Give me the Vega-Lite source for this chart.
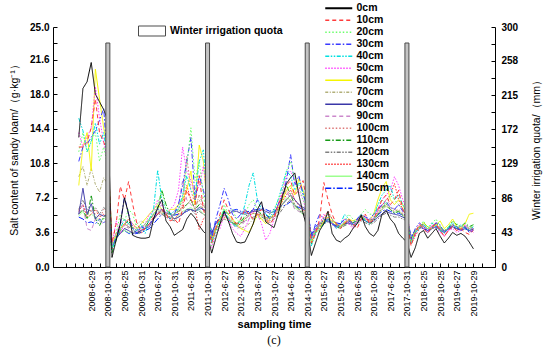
{
"$schema": "https://vega.github.io/schema/vega-lite/v6.json",
"width": 442, "height": 240,
"autosize": {"type": "none"},
"padding": {"left": 53, "top": 27, "right": 55, "bottom": 84},
"background": "white",
"config": {"view": {"stroke": null}, "font": "Liberation Sans", "axis": {"grid": false, "domainColor": "black", "tickColor": "black", "labelColor": "black", "titleColor": "black", "domainWidth": 1, "tickWidth": 1}},
"title": {"text": "(c)", "orient": "bottom", "font": "Liberation Serif", "fontSize": 12, "fontWeight": "normal", "anchor": "middle", "offset": 6},
"encoding": {
"x": {"field": "k", "type": "quantitative", "scale": {"domain": [0, 52], "nice": false, "zero": false},
 "axis": {"values": [1,2,3,4,5,6,7,8,9,10,11,12,13,14,15,16,17,18,19,20,21,22,23,24,25,26,27,28,29,30,31,32,33,34,35,36,37,38,39,40,41,42,43,44,45,46,47,48,49,50,51],
 "labelExpr": "datum.value==4?'2008-6-29':datum.value==6?'2008-10-31':datum.value==8?'2009-6-25':datum.value==10?'2009-10-31':datum.value==12?'2010-6-27':datum.value==14?'2010-10-31':datum.value==16?'2011-6-28':datum.value==18?'2011-10-31':datum.value==20?'2012-6-27':datum.value==22?'2012-10-30':datum.value==24?'2013-6-27':datum.value==26?'2013-10-27':datum.value==28?'2014-6-26':datum.value==30?'2014-10-28':datum.value==32?'2015-6-27':datum.value==34?'2015-10-29':datum.value==36?'2016-6-25':datum.value==38?'2016-10-28':datum.value==40?'2017-6-26':datum.value==42?'2017-10-31':datum.value==44?'2018-6-25':datum.value==46?'2018-10-25':datum.value==48?'2019-6-27':datum.value==50?'2019-10-29':''",
 "labelAngle": -90, "labelAlign": "right", "labelBaseline": "middle", "labelFontSize": 9, "labelPadding": 7, "labelFlush": false, "labelOverlap": false,
 "tickSize": -4,
 "title": "sampling time", "titleFontSize": 11, "titleFontWeight": "bold", "titlePadding": 2}}
},
"layer": [
{
"data": {"values": [
{"k":2.5,"0cm":13.5,"10cm":12.5,"20cm":12.0,"30cm":11.0,"40cm":15.5,"50cm":14.0,"60cm":8.5,"70cm":9.4,"80cm":5.5,"90cm":5.5,"100cm":6.0,"110cm":5.5,"120cm":6.0,"130cm":5.8,"140cm":5.3,"150cm":5.2},
{"k":3,"0cm":18.6,"10cm":12.5,"20cm":14.0,"30cm":12.5,"40cm":14.2,"50cm":12.5,"60cm":12.5,"70cm":10.5,"80cm":8.2,"90cm":6.5,"100cm":6.5,"110cm":6.0,"120cm":7.0,"130cm":6.5,"140cm":5.8,"150cm":5.0},
{"k":3.5,"0cm":19.3,"10cm":13.0,"20cm":12.0,"30cm":12.8,"40cm":12.0,"50cm":13.5,"60cm":14.0,"70cm":8.5,"80cm":5.5,"90cm":4.0,"100cm":5.5,"110cm":5.0,"120cm":6.0,"130cm":5.2,"140cm":5.0,"150cm":4.6},
{"k":4,"0cm":21.3,"10cm":14.5,"20cm":13.2,"30cm":13.5,"40cm":13.0,"50cm":14.5,"60cm":10.0,"70cm":10.3,"80cm":6.6,"90cm":3.8,"100cm":6.0,"110cm":7.5,"120cm":5.8,"130cm":5.5,"140cm":5.5,"150cm":4.7},
{"k":4.5,"0cm":18.0,"10cm":17.5,"20cm":14.0,"30cm":14.2,"40cm":15.0,"50cm":18.8,"60cm":20.6,"70cm":8.6,"80cm":5.0,"90cm":5.0,"100cm":5.5,"110cm":5.0,"120cm":6.2,"130cm":6.0,"140cm":5.2,"150cm":4.5},
{"k":5,"0cm":17.2,"10cm":14.0,"20cm":11.0,"30cm":15.3,"40cm":12.8,"50cm":15.5,"60cm":17.5,"70cm":7.8,"80cm":5.5,"90cm":4.8,"100cm":5.0,"110cm":4.3,"120cm":5.5,"130cm":5.2,"140cm":4.8,"150cm":5.0},
{"k":5.5,"0cm":16.4,"10cm":13.0,"20cm":12.5,"30cm":16.5,"40cm":14.0,"50cm":13.0,"60cm":14.5,"70cm":9.3,"80cm":5.3,"90cm":4.5,"100cm":6.0,"110cm":5.2,"120cm":6.2,"130cm":5.5,"140cm":5.0,"150cm":4.6},
{"k":6,"0cm":15.3,"10cm":12.0,"20cm":10.5,"30cm":10.5,"40cm":11.0,"50cm":10.8,"60cm":12.0,"70cm":8.6,"80cm":5.5,"90cm":5.0,"100cm":5.5,"110cm":5.5,"120cm":5.8,"130cm":5.0,"140cm":5.3,"150cm":5.2},
{"k":6.5,"0cm":1.0,"10cm":2.5,"20cm":2.0,"30cm":2.2,"40cm":1.8,"50cm":2.3,"60cm":2.5,"70cm":2.0,"80cm":2.0,"90cm":2.5,"100cm":2.2,"110cm":1.5,"120cm":2.0,"130cm":1.8,"140cm":2.0,"150cm":2.0},
{"k":7,"0cm":2.8,"10cm":4.5,"20cm":3.5,"30cm":3.0,"40cm":3.0,"50cm":4.8,"60cm":3.2,"70cm":3.5,"80cm":3.0,"90cm":3.5,"100cm":3.2,"110cm":2.8,"120cm":3.0,"130cm":3.5,"140cm":3.0,"150cm":3.2},
{"k":7.5,"0cm":4.5,"10cm":8.4,"20cm":5.5,"30cm":4.5,"40cm":4.0,"50cm":3.5,"60cm":4.0,"70cm":4.0,"80cm":3.5,"90cm":4.5,"100cm":4.0,"110cm":3.8,"120cm":3.5,"130cm":4.0,"140cm":3.5,"150cm":3.6},
{"k":8,"0cm":7.2,"10cm":7.0,"20cm":4.8,"30cm":7.3,"40cm":5.0,"50cm":4.5,"60cm":4.5,"70cm":4.5,"80cm":4.0,"90cm":5.0,"100cm":4.3,"110cm":4.5,"120cm":4.0,"130cm":4.5,"140cm":3.8,"150cm":3.8},
{"k":8.5,"0cm":5.5,"10cm":8.9,"20cm":6.0,"30cm":5.5,"40cm":4.5,"50cm":5.0,"60cm":5.0,"70cm":4.2,"80cm":3.8,"90cm":4.0,"100cm":4.5,"110cm":4.8,"120cm":4.2,"130cm":5.0,"140cm":3.6,"150cm":3.5},
{"k":9,"0cm":3.3,"10cm":6.5,"20cm":5.5,"30cm":4.0,"40cm":4.0,"50cm":4.5,"60cm":4.5,"70cm":4.0,"80cm":3.5,"90cm":3.5,"100cm":4.0,"110cm":4.0,"120cm":3.8,"130cm":4.2,"140cm":3.5,"150cm":3.4},
{"k":9.5,"0cm":3.1,"10cm":4.5,"20cm":4.0,"30cm":3.5,"40cm":3.8,"50cm":4.0,"60cm":4.0,"70cm":4.5,"80cm":3.6,"90cm":3.8,"100cm":3.8,"110cm":3.5,"120cm":3.6,"130cm":3.8,"140cm":3.8,"150cm":3.5},
{"k":10,"0cm":3.0,"10cm":3.8,"20cm":4.2,"30cm":4.2,"40cm":4.5,"50cm":3.8,"60cm":4.5,"70cm":4.8,"80cm":3.8,"90cm":4.0,"100cm":3.5,"110cm":3.8,"120cm":3.5,"130cm":3.6,"140cm":4.0,"150cm":3.6},
{"k":10.5,"0cm":3.0,"10cm":4.0,"20cm":4.5,"30cm":4.0,"40cm":3.5,"50cm":4.5,"60cm":5.0,"70cm":4.5,"80cm":4.0,"90cm":4.5,"100cm":4.0,"110cm":4.2,"120cm":4.0,"130cm":4.0,"140cm":4.5,"150cm":3.8},
{"k":11,"0cm":3.1,"10cm":4.5,"20cm":5.0,"30cm":4.5,"40cm":5.0,"50cm":5.5,"60cm":5.5,"70cm":5.0,"80cm":4.2,"90cm":4.8,"100cm":4.5,"110cm":4.8,"120cm":4.5,"130cm":4.5,"140cm":5.0,"150cm":4.0},
{"k":11.5,"0cm":5.0,"10cm":5.2,"20cm":5.5,"30cm":5.0,"40cm":6.0,"50cm":5.8,"60cm":6.0,"70cm":5.5,"80cm":5.0,"90cm":5.5,"100cm":5.0,"110cm":5.5,"120cm":5.0,"130cm":5.0,"140cm":5.5,"150cm":4.5},
{"k":12,"0cm":6.2,"10cm":5.5,"20cm":6.5,"30cm":6.0,"40cm":10.1,"50cm":7.0,"60cm":6.5,"70cm":6.0,"80cm":5.5,"90cm":6.0,"100cm":5.8,"110cm":6.0,"120cm":5.5,"130cm":5.5,"140cm":6.0,"150cm":5.0},
{"k":12.5,"0cm":7.0,"10cm":6.0,"20cm":8.0,"30cm":6.0,"40cm":7.0,"50cm":6.5,"60cm":6.0,"70cm":5.8,"80cm":6.0,"90cm":6.5,"100cm":5.5,"110cm":8.0,"120cm":5.5,"130cm":5.8,"140cm":5.6,"150cm":5.5},
{"k":13,"0cm":4.8,"10cm":5.5,"20cm":6.0,"30cm":5.5,"40cm":6.0,"50cm":5.5,"60cm":5.5,"70cm":5.5,"80cm":5.6,"90cm":5.5,"100cm":5.2,"110cm":6.5,"120cm":5.2,"130cm":5.5,"140cm":5.4,"150cm":5.6},
{"k":13.5,"0cm":4.2,"10cm":4.8,"20cm":5.0,"30cm":5.0,"40cm":5.5,"50cm":6.0,"60cm":6.0,"70cm":5.0,"80cm":5.5,"90cm":5.0,"100cm":5.0,"110cm":5.5,"120cm":5.0,"130cm":5.2,"140cm":5.2,"150cm":5.6},
{"k":14,"0cm":3.3,"10cm":5.0,"20cm":5.5,"30cm":5.5,"40cm":5.8,"50cm":6.5,"60cm":6.0,"70cm":5.5,"80cm":5.0,"90cm":5.8,"100cm":5.5,"110cm":5.5,"120cm":4.8,"130cm":5.0,"140cm":5.0,"150cm":5.4},
{"k":14.5,"0cm":3.6,"10cm":4.5,"20cm":6.0,"30cm":6.5,"40cm":6.0,"50cm":8.0,"60cm":6.5,"70cm":5.8,"80cm":5.2,"90cm":6.5,"100cm":6.0,"110cm":5.8,"120cm":5.2,"130cm":5.5,"140cm":5.4,"150cm":5.5},
{"k":15,"0cm":3.9,"10cm":6.0,"20cm":7.0,"30cm":8.5,"40cm":7.5,"50cm":12.5,"60cm":7.0,"70cm":6.0,"80cm":5.5,"90cm":9.0,"100cm":7.0,"110cm":6.2,"120cm":5.5,"130cm":6.5,"140cm":5.8,"150cm":5.6},
{"k":15.5,"0cm":5.0,"10cm":8.0,"20cm":10.5,"30cm":11.0,"40cm":9.5,"50cm":10.0,"60cm":8.0,"70cm":6.5,"80cm":6.0,"90cm":7.0,"100cm":11.5,"110cm":6.5,"120cm":5.8,"130cm":8.5,"140cm":6.0,"150cm":5.8},
{"k":16,"0cm":5.6,"10cm":7.0,"20cm":14.5,"30cm":13.5,"40cm":8.0,"50cm":9.0,"60cm":10.0,"70cm":7.0,"80cm":6.0,"90cm":6.5,"100cm":8.0,"110cm":7.0,"120cm":6.0,"130cm":7.0,"140cm":6.2,"150cm":6.0},
{"k":16.5,"0cm":5.1,"10cm":6.5,"20cm":9.0,"30cm":7.0,"40cm":7.5,"50cm":7.5,"60cm":6.5,"70cm":6.0,"80cm":5.8,"90cm":6.0,"100cm":6.5,"110cm":6.0,"120cm":5.5,"130cm":6.0,"140cm":5.8,"150cm":5.8},
{"k":17,"0cm":4.3,"10cm":9.5,"20cm":11.0,"30cm":9.5,"40cm":11.0,"50cm":8.5,"60cm":12.7,"70cm":7.5,"80cm":6.2,"90cm":7.5,"100cm":7.0,"110cm":6.5,"120cm":5.8,"130cm":3.9,"140cm":6.0,"150cm":6.0},
{"k":17.5,"0cm":3.7,"10cm":6.0,"20cm":7.5,"30cm":8.0,"40cm":12.2,"50cm":10.5,"60cm":11.0,"70cm":6.5,"80cm":6.0,"90cm":6.5,"100cm":6.0,"110cm":6.0,"120cm":5.5,"130cm":5.0,"140cm":5.5,"150cm":6.0},
{"k":18,"0cm":3.3,"10cm":4.5,"20cm":5.0,"30cm":6.0,"40cm":6.5,"50cm":7.0,"60cm":6.0,"70cm":5.5,"80cm":5.8,"90cm":6.0,"100cm":5.5,"110cm":5.5,"120cm":5.2,"130cm":5.5,"140cm":5.3,"150cm":5.8},
{"k":18.5,"0cm":1.45,"10cm":2.5,"20cm":2.2,"30cm":3.0,"40cm":2.5,"50cm":2.0,"60cm":2.8,"70cm":3.0,"80cm":3.5,"90cm":2.5,"100cm":3.0,"110cm":2.8,"120cm":3.2,"130cm":2.6,"140cm":3.0,"150cm":3.5},
{"k":19,"0cm":3.0,"10cm":4.0,"20cm":3.5,"30cm":5.0,"40cm":3.8,"50cm":3.5,"60cm":4.0,"70cm":4.0,"80cm":4.5,"90cm":4.0,"100cm":4.2,"110cm":4.0,"120cm":4.2,"130cm":3.8,"140cm":4.0,"150cm":4.6},
{"k":19.5,"0cm":4.5,"10cm":5.5,"20cm":4.5,"30cm":6.5,"40cm":5.0,"50cm":4.0,"60cm":5.0,"70cm":4.5,"80cm":5.0,"90cm":4.8,"100cm":5.0,"110cm":4.8,"120cm":4.6,"130cm":4.5,"140cm":4.8,"150cm":5.2},
{"k":20,"0cm":5.8,"10cm":7.0,"20cm":6.5,"30cm":8.2,"40cm":6.0,"50cm":5.5,"60cm":6.0,"70cm":5.0,"80cm":5.8,"90cm":5.5,"100cm":5.5,"110cm":5.5,"120cm":5.0,"130cm":5.2,"140cm":5.4,"150cm":5.6},
{"k":20.5,"0cm":4.8,"10cm":6.0,"20cm":5.5,"30cm":7.0,"40cm":5.0,"50cm":5.0,"60cm":5.5,"70cm":4.8,"80cm":5.5,"90cm":5.0,"100cm":5.2,"110cm":5.0,"120cm":4.8,"130cm":5.0,"140cm":5.2,"150cm":5.8},
{"k":21,"0cm":3.5,"10cm":5.0,"20cm":6.0,"30cm":5.5,"40cm":4.5,"50cm":4.0,"60cm":5.0,"70cm":4.6,"80cm":5.8,"90cm":4.5,"100cm":4.8,"110cm":4.6,"120cm":4.6,"130cm":4.6,"140cm":4.8,"150cm":5.9},
{"k":21.5,"0cm":2.6,"10cm":4.5,"20cm":5.0,"30cm":5.0,"40cm":4.2,"50cm":3.5,"60cm":4.5,"70cm":4.3,"80cm":5.8,"90cm":4.0,"100cm":4.5,"110cm":4.4,"120cm":4.5,"130cm":4.3,"140cm":4.6,"150cm":6.0},
{"k":22,"0cm":2.5,"10cm":5.0,"20cm":4.5,"30cm":5.5,"40cm":5.0,"50cm":3.2,"60cm":4.0,"70cm":4.0,"80cm":5.6,"90cm":4.2,"100cm":4.6,"110cm":4.8,"120cm":4.6,"130cm":4.5,"140cm":4.8,"150cm":5.8},
{"k":22.5,"0cm":2.6,"10cm":6.0,"20cm":5.5,"30cm":6.0,"40cm":6.5,"50cm":4.0,"60cm":3.8,"70cm":4.2,"80cm":5.5,"90cm":4.8,"100cm":5.0,"110cm":5.2,"120cm":4.8,"130cm":5.0,"140cm":5.0,"150cm":5.7},
{"k":23,"0cm":3.5,"10cm":5.5,"20cm":6.5,"30cm":5.5,"40cm":8.5,"50cm":5.0,"60cm":3.6,"70cm":4.5,"80cm":5.6,"90cm":5.5,"100cm":5.5,"110cm":5.6,"120cm":5.0,"130cm":5.4,"140cm":5.3,"150cm":5.8},
{"k":23.5,"0cm":4.5,"10cm":5.0,"20cm":7.0,"30cm":6.0,"40cm":9.8,"50cm":6.0,"60cm":4.5,"70cm":5.0,"80cm":5.8,"90cm":6.0,"100cm":5.8,"110cm":6.0,"120cm":5.2,"130cm":5.6,"140cm":5.6,"150cm":5.9},
{"k":24,"0cm":6.0,"10cm":5.5,"20cm":6.0,"30cm":7.0,"40cm":7.0,"50cm":5.5,"60cm":5.5,"70cm":5.2,"80cm":5.8,"90cm":5.8,"100cm":5.6,"110cm":5.8,"120cm":5.4,"130cm":5.5,"140cm":5.5,"150cm":6.0},
{"k":24.5,"0cm":6.8,"10cm":6.0,"20cm":5.5,"30cm":6.5,"40cm":6.0,"50cm":4.5,"60cm":5.0,"70cm":5.0,"80cm":6.0,"90cm":5.5,"100cm":5.4,"110cm":5.5,"120cm":5.2,"130cm":5.4,"140cm":5.3,"150cm":6.1},
{"k":25,"0cm":4.7,"10cm":5.0,"20cm":5.0,"30cm":5.5,"40cm":5.5,"50cm":2.8,"60cm":4.5,"70cm":4.8,"80cm":5.8,"90cm":5.0,"100cm":5.2,"110cm":5.4,"120cm":5.0,"130cm":5.2,"140cm":5.1,"150cm":6.0},
{"k":25.5,"0cm":4.4,"10cm":4.5,"20cm":5.5,"30cm":5.0,"40cm":5.2,"50cm":3.5,"60cm":5.0,"70cm":4.6,"80cm":5.6,"90cm":4.8,"100cm":5.0,"110cm":5.2,"120cm":4.8,"130cm":5.0,"140cm":5.0,"150cm":5.8},
{"k":26,"0cm":4.1,"10cm":5.0,"20cm":6.0,"30cm":5.5,"40cm":5.8,"50cm":5.0,"60cm":5.5,"70cm":5.0,"80cm":5.8,"90cm":5.2,"100cm":5.2,"110cm":5.5,"120cm":5.0,"130cm":5.4,"140cm":5.3,"150cm":6.0},
{"k":26.5,"0cm":5.5,"10cm":6.5,"20cm":7.0,"30cm":6.5,"40cm":7.0,"50cm":6.5,"60cm":6.0,"70cm":5.5,"80cm":6.0,"90cm":6.0,"100cm":5.8,"110cm":6.5,"120cm":5.4,"130cm":6.0,"140cm":5.8,"150cm":6.2},
{"k":27,"0cm":7.3,"10cm":7.5,"20cm":8.0,"30cm":7.5,"40cm":8.5,"50cm":8.0,"60cm":7.0,"70cm":6.5,"80cm":6.5,"90cm":7.5,"100cm":7.0,"110cm":7.2,"120cm":6.0,"130cm":6.8,"140cm":6.5,"150cm":6.3},
{"k":27.5,"0cm":8.7,"10cm":8.5,"20cm":10.0,"30cm":9.0,"40cm":10.0,"50cm":9.5,"60cm":8.0,"70cm":7.0,"80cm":7.0,"90cm":8.0,"100cm":7.8,"110cm":8.5,"120cm":6.6,"130cm":7.5,"140cm":7.2,"150cm":6.5},
{"k":28,"0cm":9.3,"10cm":9.0,"20cm":11.0,"30cm":11.7,"40cm":9.5,"50cm":10.0,"60cm":8.5,"70cm":7.5,"80cm":7.5,"90cm":7.0,"100cm":8.2,"110cm":7.5,"120cm":7.0,"130cm":8.0,"140cm":7.0,"150cm":6.8},
{"k":28.5,"0cm":9.8,"10cm":7.5,"20cm":9.0,"30cm":8.5,"40cm":8.0,"50cm":9.0,"60cm":7.5,"70cm":6.5,"80cm":7.0,"90cm":6.0,"100cm":7.0,"110cm":6.5,"120cm":6.4,"130cm":7.0,"140cm":6.2,"150cm":6.4},
{"k":29,"0cm":7.5,"10cm":8.0,"20cm":8.5,"30cm":9.5,"40cm":8.8,"50cm":8.0,"60cm":9.2,"70cm":6.0,"80cm":6.5,"90cm":5.8,"100cm":6.5,"110cm":6.0,"120cm":6.0,"130cm":6.4,"140cm":5.8,"150cm":6.2},
{"k":29.5,"0cm":5.6,"10cm":9.0,"20cm":7.0,"30cm":7.5,"40cm":7.8,"50cm":7.0,"60cm":8.0,"70cm":5.8,"80cm":6.2,"90cm":5.5,"100cm":6.0,"110cm":5.5,"120cm":5.6,"130cm":6.0,"140cm":5.5,"150cm":6.0},
{"k":30,"0cm":4.0,"10cm":6.5,"20cm":6.0,"30cm":6.5,"40cm":6.0,"50cm":5.5,"60cm":6.0,"70cm":5.5,"80cm":6.0,"90cm":5.2,"100cm":5.6,"110cm":5.2,"120cm":5.4,"130cm":5.5,"140cm":5.3,"150cm":6.0},
{"k":30.5,"0cm":1.2,"10cm":2.5,"20cm":2.8,"30cm":3.0,"40cm":2.2,"50cm":2.8,"60cm":2.5,"70cm":2.8,"80cm":3.2,"90cm":2.6,"100cm":3.0,"110cm":2.4,"120cm":3.0,"130cm":2.6,"140cm":3.0,"150cm":3.4},
{"k":31,"0cm":2.5,"10cm":3.5,"20cm":4.0,"30cm":4.5,"40cm":3.5,"50cm":4.0,"60cm":3.5,"70cm":3.8,"80cm":4.0,"90cm":3.6,"100cm":3.8,"110cm":3.6,"120cm":3.8,"130cm":3.6,"140cm":3.8,"150cm":4.2},
{"k":31.5,"0cm":3.8,"10cm":5.0,"20cm":4.5,"30cm":5.5,"40cm":4.0,"50cm":4.5,"60cm":4.0,"70cm":4.5,"80cm":4.5,"90cm":4.2,"100cm":4.4,"110cm":4.2,"120cm":4.2,"130cm":4.4,"140cm":4.3,"150cm":4.6},
{"k":32,"0cm":4.5,"10cm":8.8,"20cm":5.0,"30cm":5.0,"40cm":4.5,"50cm":5.5,"60cm":4.8,"70cm":4.8,"80cm":4.6,"90cm":4.8,"100cm":5.0,"110cm":4.6,"120cm":4.5,"130cm":5.2,"140cm":4.6,"150cm":4.8},
{"k":32.5,"0cm":5.8,"10cm":7.0,"20cm":5.5,"30cm":4.8,"40cm":5.0,"50cm":5.0,"60cm":5.2,"70cm":5.0,"80cm":4.8,"90cm":5.2,"100cm":5.5,"110cm":5.0,"120cm":4.7,"130cm":5.8,"140cm":4.9,"150cm":5.0},
{"k":33,"0cm":3.5,"10cm":5.5,"20cm":5.0,"30cm":4.5,"40cm":4.5,"50cm":4.5,"60cm":4.8,"70cm":4.6,"80cm":4.5,"90cm":4.6,"100cm":5.0,"110cm":4.6,"120cm":4.4,"130cm":5.0,"140cm":4.6,"150cm":4.8},
{"k":33.5,"0cm":2.8,"10cm":4.5,"20cm":4.5,"30cm":4.2,"40cm":4.0,"50cm":4.0,"60cm":4.5,"70cm":4.4,"80cm":4.3,"90cm":4.0,"100cm":4.5,"110cm":4.2,"120cm":4.2,"130cm":4.4,"140cm":4.3,"150cm":4.6},
{"k":34,"0cm":2.6,"10cm":4.0,"20cm":4.2,"30cm":4.5,"40cm":4.5,"50cm":4.5,"60cm":4.2,"70cm":4.3,"80cm":4.2,"90cm":4.4,"100cm":4.3,"110cm":4.0,"120cm":4.1,"130cm":4.2,"140cm":4.2,"150cm":4.5},
{"k":34.5,"0cm":3.0,"10cm":4.5,"20cm":4.8,"30cm":5.0,"40cm":5.5,"50cm":5.0,"60cm":4.6,"70cm":4.6,"80cm":4.5,"90cm":5.0,"100cm":4.6,"110cm":4.4,"120cm":4.3,"130cm":4.6,"140cm":4.5,"150cm":4.6},
{"k":35,"0cm":3.3,"10cm":5.0,"20cm":5.5,"30cm":4.8,"40cm":5.0,"50cm":4.5,"60cm":5.0,"70cm":4.8,"80cm":4.6,"90cm":4.6,"100cm":4.8,"110cm":4.8,"120cm":4.5,"130cm":5.0,"140cm":4.8,"150cm":4.8},
{"k":35.5,"0cm":4.0,"10cm":4.5,"20cm":5.0,"30cm":4.5,"40cm":4.5,"50cm":4.0,"60cm":4.8,"70cm":4.6,"80cm":4.4,"90cm":4.2,"100cm":4.5,"110cm":4.6,"120cm":4.3,"130cm":4.6,"140cm":4.6,"150cm":4.7},
{"k":36,"0cm":4.5,"10cm":4.0,"20cm":4.5,"30cm":5.0,"40cm":5.0,"50cm":4.8,"60cm":5.0,"70cm":4.8,"80cm":4.6,"90cm":4.5,"100cm":4.8,"110cm":4.8,"120cm":4.5,"130cm":4.8,"140cm":4.8,"150cm":4.9},
{"k":36.5,"0cm":5.4,"10cm":5.0,"20cm":5.5,"30cm":5.5,"40cm":5.5,"50cm":5.5,"60cm":5.4,"70cm":5.2,"80cm":5.0,"90cm":5.2,"100cm":5.3,"110cm":5.2,"120cm":4.8,"130cm":5.4,"140cm":5.2,"150cm":5.2},
{"k":37,"0cm":4.2,"10cm":5.5,"20cm":6.0,"30cm":5.2,"40cm":4.8,"50cm":5.0,"60cm":5.0,"70cm":5.0,"80cm":4.8,"90cm":5.0,"100cm":5.0,"110cm":4.8,"120cm":4.6,"130cm":5.2,"140cm":5.0,"150cm":5.0},
{"k":37.5,"0cm":3.5,"10cm":4.5,"20cm":5.5,"30cm":5.0,"40cm":4.5,"50cm":4.8,"60cm":4.8,"70cm":4.8,"80cm":4.6,"90cm":4.6,"100cm":4.7,"110cm":4.5,"120cm":4.4,"130cm":4.8,"140cm":4.7,"150cm":4.9},
{"k":38,"0cm":3.2,"10cm":5.0,"20cm":5.5,"30cm":5.5,"40cm":5.0,"50cm":5.2,"60cm":5.5,"70cm":5.0,"80cm":4.8,"90cm":5.0,"100cm":5.0,"110cm":4.8,"120cm":4.6,"130cm":5.0,"140cm":5.0,"150cm":5.0},
{"k":38.5,"0cm":3.8,"10cm":6.0,"20cm":6.5,"30cm":6.0,"40cm":6.5,"50cm":6.0,"60cm":7.0,"70cm":5.5,"80cm":5.2,"90cm":5.8,"100cm":5.6,"110cm":5.5,"120cm":5.0,"130cm":5.8,"140cm":5.5,"150cm":5.4},
{"k":39,"0cm":5.5,"10cm":7.0,"20cm":7.0,"30cm":6.5,"40cm":7.5,"50cm":7.0,"60cm":8.2,"70cm":6.0,"80cm":5.5,"90cm":6.5,"100cm":6.0,"110cm":6.2,"120cm":5.4,"130cm":6.4,"140cm":6.0,"150cm":5.8},
{"k":39.5,"0cm":5.9,"10cm":7.5,"20cm":6.5,"30cm":6.8,"40cm":8.0,"50cm":7.5,"60cm":8.9,"70cm":6.5,"80cm":5.8,"90cm":7.0,"100cm":6.4,"110cm":6.6,"120cm":5.6,"130cm":7.0,"140cm":6.3,"150cm":6.0},
{"k":40,"0cm":5.0,"10cm":6.5,"20cm":7.5,"30cm":6.2,"40cm":8.5,"50cm":8.0,"60cm":7.0,"70cm":6.2,"80cm":5.6,"90cm":6.5,"100cm":6.0,"110cm":6.0,"120cm":5.4,"130cm":7.5,"140cm":6.0,"150cm":5.8},
{"k":40.5,"0cm":4.5,"10cm":7.0,"20cm":7.0,"30cm":6.0,"40cm":7.0,"50cm":9.4,"60cm":6.5,"70cm":6.0,"80cm":5.5,"90cm":6.0,"100cm":5.8,"110cm":5.6,"120cm":5.2,"130cm":8.7,"140cm":5.7,"150cm":5.6},
{"k":41,"0cm":3.5,"10cm":8.0,"20cm":6.5,"30cm":6.5,"40cm":7.5,"50cm":8.5,"60cm":7.0,"70cm":5.8,"80cm":5.4,"90cm":6.5,"100cm":6.0,"110cm":5.8,"120cm":5.2,"130cm":7.0,"140cm":5.8,"150cm":5.6},
{"k":41.5,"0cm":3.0,"10cm":6.0,"20cm":6.0,"30cm":5.8,"40cm":6.5,"50cm":7.0,"60cm":6.5,"70cm":5.5,"80cm":5.2,"90cm":6.0,"100cm":5.6,"110cm":5.4,"120cm":5.0,"130cm":6.0,"140cm":5.4,"150cm":5.4},
{"k":42,"0cm":2.6,"10cm":5.0,"20cm":5.5,"30cm":5.0,"40cm":5.5,"50cm":6.0,"60cm":5.5,"70cm":5.0,"80cm":5.0,"90cm":5.2,"100cm":5.0,"110cm":4.8,"120cm":4.8,"130cm":5.2,"140cm":5.0,"150cm":5.2},
{"k":42.5,"0cm":1.0,"10cm":2.2,"20cm":2.5,"30cm":2.8,"40cm":2.4,"50cm":2.6,"60cm":2.6,"70cm":2.8,"80cm":3.0,"90cm":2.6,"100cm":2.8,"110cm":2.5,"120cm":3.0,"130cm":2.4,"140cm":2.8,"150cm":3.2},
{"k":43,"0cm":2.0,"10cm":3.5,"20cm":3.8,"30cm":4.0,"40cm":3.6,"50cm":3.4,"60cm":3.8,"70cm":3.6,"80cm":3.8,"90cm":3.4,"100cm":3.6,"110cm":3.6,"120cm":3.6,"130cm":3.2,"140cm":3.6,"150cm":3.8},
{"k":43.5,"0cm":3.5,"10cm":4.5,"20cm":4.2,"30cm":4.6,"40cm":4.0,"50cm":4.4,"60cm":4.2,"70cm":4.0,"80cm":4.2,"90cm":4.0,"100cm":4.2,"110cm":4.0,"120cm":4.0,"130cm":4.0,"140cm":4.2,"150cm":4.2},
{"k":44,"0cm":3.8,"10cm":4.0,"20cm":4.8,"30cm":4.2,"40cm":4.4,"50cm":4.0,"60cm":4.6,"70cm":4.2,"80cm":4.0,"90cm":4.4,"100cm":4.2,"110cm":4.6,"120cm":4.2,"130cm":4.4,"140cm":4.4,"150cm":4.0},
{"k":44.5,"0cm":3.0,"10cm":3.5,"20cm":4.0,"30cm":3.8,"40cm":4.0,"50cm":3.6,"60cm":4.2,"70cm":3.8,"80cm":3.6,"90cm":4.0,"100cm":3.8,"110cm":4.2,"120cm":3.8,"130cm":3.8,"140cm":4.0,"150cm":3.8},
{"k":45,"0cm":3.5,"10cm":4.2,"20cm":4.5,"30cm":4.0,"40cm":4.6,"50cm":4.4,"60cm":4.0,"70cm":4.2,"80cm":4.0,"90cm":4.2,"100cm":4.2,"110cm":4.0,"120cm":4.0,"130cm":4.2,"140cm":4.2,"150cm":4.0},
{"k":45.5,"0cm":4.0,"10cm":4.5,"20cm":5.0,"30cm":4.6,"40cm":4.2,"50cm":4.0,"60cm":4.4,"70cm":4.4,"80cm":4.2,"90cm":4.6,"100cm":4.4,"110cm":4.6,"120cm":4.2,"130cm":4.6,"140cm":4.4,"150cm":4.2},
{"k":46,"0cm":3.2,"10cm":3.8,"20cm":4.2,"30cm":4.4,"40cm":3.8,"50cm":3.6,"60cm":4.8,"70cm":4.0,"80cm":3.8,"90cm":4.0,"100cm":4.0,"110cm":4.2,"120cm":3.9,"130cm":3.8,"140cm":4.0,"150cm":4.0},
{"k":46.5,"0cm":2.5,"10cm":3.2,"20cm":3.8,"30cm":3.6,"40cm":3.5,"50cm":3.2,"60cm":4.0,"70cm":3.8,"80cm":3.6,"90cm":3.6,"100cm":3.8,"110cm":3.8,"120cm":3.7,"130cm":3.2,"140cm":3.8,"150cm":3.8},
{"k":47,"0cm":3.0,"10cm":3.8,"20cm":4.2,"30cm":4.0,"40cm":4.2,"50cm":3.8,"60cm":4.4,"70cm":4.0,"80cm":4.0,"90cm":3.8,"100cm":4.0,"110cm":4.0,"120cm":4.0,"130cm":3.8,"140cm":4.0,"150cm":3.9},
{"k":47.5,"0cm":3.6,"10cm":4.2,"20cm":4.8,"30cm":4.4,"40cm":4.6,"50cm":4.0,"60cm":5.0,"70cm":4.4,"80cm":4.2,"90cm":4.4,"100cm":4.2,"110cm":4.8,"120cm":4.2,"130cm":4.4,"140cm":4.4,"150cm":4.1},
{"k":48,"0cm":3.3,"10cm":3.8,"20cm":4.5,"30cm":4.2,"40cm":4.0,"50cm":3.6,"60cm":4.2,"70cm":4.2,"80cm":4.0,"90cm":4.0,"100cm":4.0,"110cm":4.4,"120cm":4.0,"130cm":3.8,"140cm":4.2,"150cm":4.0},
{"k":48.5,"0cm":3.5,"10cm":4.0,"20cm":4.2,"30cm":3.8,"40cm":4.4,"50cm":3.8,"60cm":4.0,"70cm":4.0,"80cm":3.8,"90cm":4.2,"100cm":4.0,"110cm":4.2,"120cm":3.9,"130cm":4.0,"140cm":4.0,"150cm":3.9},
{"k":49,"0cm":3.2,"10cm":3.6,"20cm":4.6,"30cm":4.2,"40cm":4.0,"50cm":4.4,"60cm":4.5,"70cm":4.2,"80cm":4.0,"90cm":4.4,"100cm":4.2,"110cm":4.6,"120cm":4.1,"130cm":4.2,"140cm":4.2,"150cm":4.0},
{"k":49.5,"0cm":2.6,"10cm":3.4,"20cm":4.0,"30cm":3.6,"40cm":3.8,"50cm":4.0,"60cm":5.5,"70cm":4.0,"80cm":3.8,"90cm":4.0,"100cm":4.0,"110cm":4.2,"120cm":3.9,"130cm":3.6,"140cm":4.0,"150cm":3.8},
{"k":50,"0cm":1.9,"10cm":3.8,"20cm":4.4,"30cm":3.8,"40cm":4.2,"50cm":3.6,"60cm":5.6,"70cm":4.2,"80cm":3.9,"90cm":4.0,"100cm":3.8,"110cm":4.4,"120cm":4.0,"130cm":4.0,"140cm":4.4,"150cm":4.0}
]},
"transform": [{"fold": ["150cm","140cm","130cm","120cm","110cm","100cm","90cm","80cm","70cm","60cm","50cm","40cm","30cm","20cm","10cm","0cm"], "as": ["depth", "salt"]}],
"mark": {"type": "line", "strokeWidth": 1},
"encoding": {
"y": {"field": "salt", "type": "quantitative", "scale": {"domain": [0, 25], "nice": false},
 "axis": {"orient": "left", "values": [0,1.8,3.6,5.4,7.2,9,10.8,12.6,14.4,16.2,18,19.8,21.6,23.3,25],
 "labelExpr": "indexof([0,3.6,7.2,10.8,14.4,18,21.6,25], datum.value) >= 0 ? format(datum.value, '.1f') : ''",
 "labelFontSize": 10, "labelFontWeight": "bold", "labelPadding": 8,
 "tickSize": -4,
 "title": "Salt content of sandy loam/（g·kg⁻¹）", "titleFontSize": 10.5, "titleFontWeight": "normal", "titlePadding": 10}},
"color": {"field": "depth", "type": "nominal",
 "scale": {"domain": ["0cm","10cm","20cm","30cm","40cm","50cm","60cm","70cm","80cm","90cm","100cm","110cm","120cm","130cm","140cm","150cm"],
  "range": ["#000000","#ff3b3b","#6bff6b","#3a3aff","#00e0e0","#ff44ff","#f5f500","#b2b07a","#3a36a8","#cc88cc","#dd7777","#159915","#808080","#ff3333","#9dff8f","#0022ff"]},
 "legend": {"orient": "none", "legendX": 280.5, "legendY": -24, "title": null, "symbolType": "M-2.7,0H2.7", "symbolSize": 100, "labelFontSize": 10.5, "labelFontWeight": "bold", "labelFont": "Liberation Sans", "labelOffset": 12.5, "rowPadding": 1, "padding": 0, "symbolStrokeWidth": 1.2,
  "encode": {"symbols": {"update": {"strokeWidth": {"signal": "datum.value === '0cm' ? 2 : 1.3"}}}}}},
"strokeDash": {"field": "depth", "type": "nominal",
 "scale": {"domain": ["0cm","10cm","20cm","30cm","40cm","50cm","60cm","70cm","80cm","90cm","100cm","110cm","120cm","130cm","140cm","150cm"],
  "range": [[1,0],[4,3],[1.5,2],[5,2,1.5,2],[4,1.5,1.5,1.5,1.5,1.5],[1.5,1.5],[1,0],[3,1.5,1,1.5],[1,0],[4,3],[1.5,2],[5,2,1.5,2],[4,1.5,1.5,1.5,1.5,1.5],[1.5,1.5],[1,0],[6,2,1.5,2]]}},
"strokeWidth": {"condition": {"test": "datum.depth === '0cm'", "value": 2}, "value": 1}
}
},
{
"data": {"values": [{"k": 6, "q": 280}, {"k": 18, "q": 280}, {"k": 30, "q": 280}, {"k": 42, "q": 280}]},
"mark": {"type": "bar", "width": 4, "orient": "vertical", "fill": "#c4c4c4", "stroke": "#4a4a4a", "strokeWidth": 1},
"encoding": {
"y": {"field": "q", "type": "quantitative", "scale": {"domain": [0, 300], "nice": false},
 "axis": {"orient": "right", "values": [0,21.5,43,64.5,86,107.5,129,150.5,172,193.5,215,236.5,258,279,300],
 "labelExpr": "indexof([0,43,86,129,172,215,258,300], datum.value) >= 0 ? datum.label : ''",
 "labelFontSize": 10, "labelFontWeight": "bold", "labelPadding": 10,
 "tickSize": -4,
 "title": "Winter irrigation quota/（mm）", "titleAngle": 270, "titleFontSize": 10.5, "titleFontWeight": "normal", "titlePadding": 24}}
}
},
{
"data": {"values": []},
"mark": {"type": "square", "filled": true, "stroke": "black", "strokeWidth": 1},
"encoding": {
"fill": {"datum": "Winter irrigation quota", "scale": {"range": ["white"]},
 "legend": {"orient": "none", "legendX": 93.5, "legendY": -1.5, "title": null, "symbolType": "M-2.7,-1H2.7V1H-2.7Z", "symbolSize": 100, "symbolStrokeColor": "black", "symbolStrokeWidth": 1, "labelFontSize": 10.5, "labelFontWeight": "bold", "labelFont": "Liberation Sans", "labelOffset": 12.5, "padding": 0}}
}
}
],
"resolve": {"scale": {"y": "independent"}}
}
